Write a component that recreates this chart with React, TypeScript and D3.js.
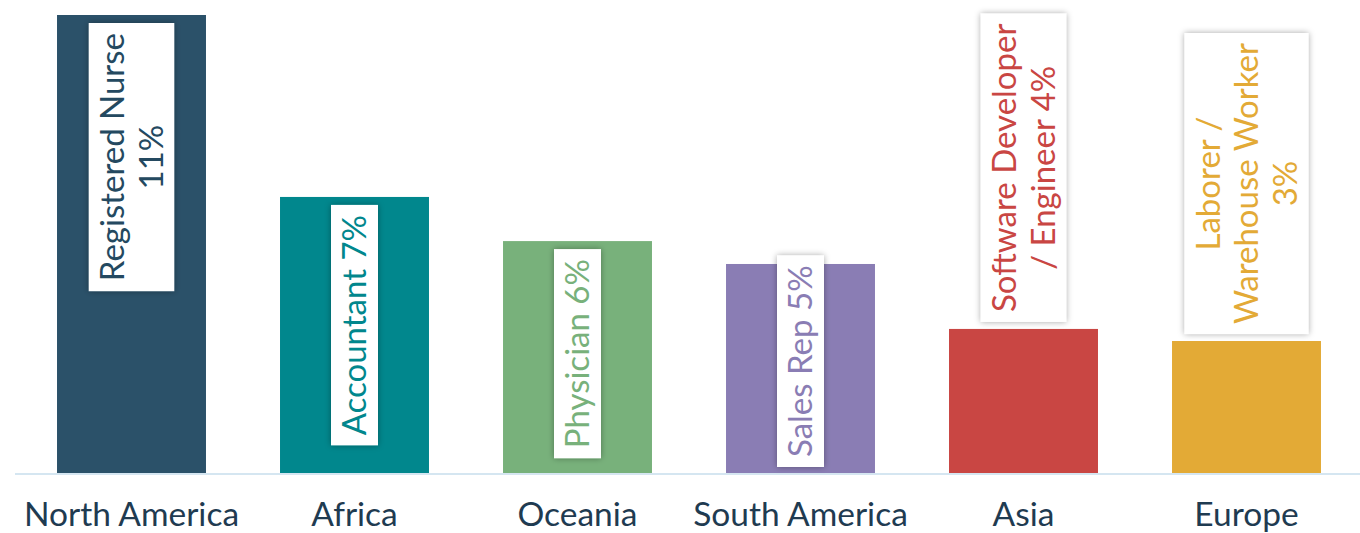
import React, { useEffect, useRef } from "react";
import * as d3 from "d3";

const categories = ["North America", "Africa", "Oceania", "South America", "Asia", "Europe"];
const values = [11.0, 6.63, 5.57, 5.02, 3.46, 3.17];
const labelLines = [
  ["Registered Nurse", "11%"],
  ["Accountant 7%"],
  ["Physician 6%"],
  ["Sales Rep 5%"],
  ["Software Developer", "/ Engineer 4%"],
  ["Laborer /", "Warehouse Worker", "3%"],
];
const colors = ["#2b5169", "#01878d", "#78b17b", "#8a7db4", "#c94643", "#e3aa36"];
const textColors = ["#244960", "#01878d", "#78b17b", "#8a7db4", "#c94643", "#e3aa36"];

const W = 1360;
const H = 533;
const BASE = 473;
const FONT = "Lato, 'Open Sans', sans-serif";

export default function App() {
  const ref = useRef<SVGSVGElement>(null);

  useEffect(() => {
    const svg = d3.select(ref.current);
    svg.selectAll("*").remove();

    const defs = svg.append("defs");
    const f = defs.append("filter").attr("id", "sh").attr("x", "-30%").attr("y", "-30%").attr("width", "160%").attr("height", "160%");
    f.append("feDropShadow").attr("dx", 0).attr("dy", 0).attr("stdDeviation", 3).attr("flood-color", "#000").attr("flood-opacity", 0.35);

    const x = d3.scaleBand<string>().domain(categories).range([20, 1358]).paddingInner(0.332).paddingOuter(0.166);
    const y = d3.scaleLinear().domain([0, 11]).range([BASE, 15]);

    svg.append("line").attr("x1", 15).attr("x2", W).attr("y1", BASE + 1).attr("y2", BASE + 1)
      .attr("stroke", "#d5e6f1").attr("stroke-width", 2);

    svg.append("g").selectAll("rect").data(categories).join("rect")
      .attr("x", (d) => x(d)!)
      .attr("width", x.bandwidth())
      .attr("y", (_, i) => y(values[i]))
      .attr("height", (_, i) => BASE - y(values[i]))
      .attr("fill", (_, i) => colors[i]);

    const fs = 33;
    const lh = 38.5;
    const pad = 10;
    categories.forEach((c, i) => {
      const cx = x(c)! + x.bandwidth() / 2;
      const lines = labelLines[i];
      const g = svg.append("g");
      const rect = g.append("rect").attr("fill", "#fff").attr("filter", "url(#sh)");
      const tg = g.append("g");
      const texts = lines.map((ln, k) =>
        tg.append("text").text(ln).attr("font-family", FONT).attr("font-size", fs)
          .attr("fill", textColors[i]).attr("text-anchor", "middle")
          .attr("x", 0).attr("y", (k - (lines.length - 1) / 2) * lh + fs * 0.36)
      );
      const maxLen = d3.max(texts, (t) => (t.node() as SVGTextElement).getComputedTextLength()) || 0;
      const boxLen = maxLen + 2 * pad;
      const boxW = lines.length * lh + 8.5;
      const top = y(values[i]);
      const barH = BASE - top;
      let boxTop: number;
      if (boxLen + 14 <= barH) boxTop = top + 8;
      else if (boxLen + 6 <= barH + 10) boxTop = BASE - 6 - boxLen;
      else boxTop = top - 7 - boxLen;
      rect.attr("x", cx - boxW / 2).attr("y", boxTop).attr("width", boxW).attr("height", boxLen);
      tg.attr("transform", `translate(${cx},${boxTop + boxLen / 2}) rotate(-90)`);
    });

    svg.append("g").selectAll("text").data(categories).join("text")
      .attr("x", (d) => x(d)! + x.bandwidth() / 2)
      .attr("y", 526)
      .attr("text-anchor", "middle")
      .attr("font-family", FONT)
      .attr("font-size", 33.5)
      .attr("fill", "#1f3b51")
      .text((d) => d);
  }, []);

  return (
    <svg ref={ref} width={W} height={H} style={{ position: "absolute", left: 0, top: 0, background: "#fff" }} />
  );
}
